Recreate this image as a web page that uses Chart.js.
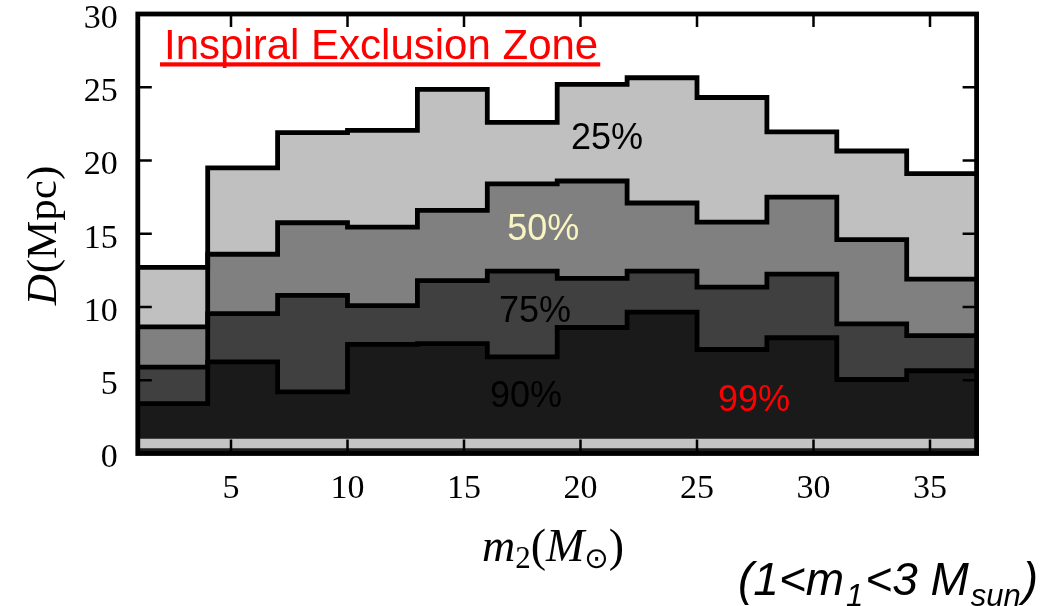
<!DOCTYPE html>
<html><head><meta charset="utf-8">
<script src="https://cdn.jsdelivr.net/npm/chart.js@4.4.1/dist/chart.umd.min.js"></script>
<style>html,body{margin:0;padding:0;background:#fff;}#wrap{width:1041px;height:606px;position:relative;}</style>
</head><body><div id="wrap"><canvas id="c"></canvas></div>
<script>
// bin edges of m2 (M_sun)
const binEdges = [1, 4, 7, 10, 13, 16, 19, 22, 25, 28, 31, 34, 37];
// exclusion distance (Mpc) per bin for each confidence level
const level25 = [12.7, 19.5, 21.9, 22.05, 24.85, 22.6, 25.2, 25.65, 24.3, 21.95, 20.65, 19.1];
const level50 = [8.65, 13.6, 15.75, 15.45, 16.6, 18.4, 18.6, 17.1, 15.8, 17.5, 14.6, 11.9];
const level75 = [5.9, 9.55, 10.8, 10.1, 11.8, 12.45, 11.95, 12.45, 11.35, 12.25, 8.85, 8.05];
const level90 = [3.4, 6.25, 4.2, 7.45, 7.5, 6.6, 8.6, 9.65, 7.1, 7.9, 5.05, 5.65];
// 99% band (thin strip near the bottom)
const level99Top = 1.0;
const level99Bottom = 0.35;
// tick labels
const xTickValues = [5, 10, 15, 20, 25, 30, 35];
const yTickValues = [0, 5, 10, 15, 20, 25, 30];
// band annotations (data coordinates)
const bandLabels = ['25%', '50%', '75%', '90%', '99%'];
const bandLabelX = [21.14, 18.40, 18.05, 17.66, 27.45];
const bandLabelY = [21.47, 15.26, 9.64, 3.88, 3.58];
const bandLabelColors = ['#000000', '#f8f5c2', '#000000', '#000000', '#ff0000'];

function stepPoints(vals) {
  const pts = vals.map((v, i) => ({x: binEdges[i], y: v}));
  pts.push({x: binEdges[binEdges.length - 1], y: vals[vals.length - 1]});
  return pts;
}
function lineDs(vals, color) {
  return {data: stepPoints(vals), stepped: true, fill: 'origin', backgroundColor: color,
    borderColor: '#000', borderWidth: 4.8, pointRadius: 0, borderJoinStyle: 'miter', borderCapStyle: 'butt'};
}
const datasets = [
  {data: [{x: binEdges[0], y: level99Top}, {x: binEdges[binEdges.length - 1], y: level99Top}],
   fill: {value: level99Bottom}, backgroundColor: '#c3c3c3', borderWidth: 0, pointRadius: 0},
  lineDs(level90, '#1a1a1a'),
  lineDs(level75, '#404040'),
  lineDs(level50, '#808080'),
  lineDs(level25, '#c0c0c0')
];

const decor = {
  id: 'decor',
  afterDatasetsDraw(chart) {
    const {ctx, chartArea: a, scales: {x, y}} = chart;
    ctx.save();
    ctx.strokeStyle = '#000';
    ctx.lineWidth = 2.5;
    ctx.beginPath();
    xTickValues.forEach(v => {
      const px = x.getPixelForValue(v);
      ctx.moveTo(px, a.top); ctx.lineTo(px, a.top + 13);
      ctx.moveTo(px, a.bottom); ctx.lineTo(px, a.bottom - 14);
    });
    yTickValues.slice(1, -1).forEach(v => {
      const py = y.getPixelForValue(v);
      ctx.moveTo(a.left, py); ctx.lineTo(a.left + 14, py);
      ctx.moveTo(a.right, py); ctx.lineTo(a.right - 14, py);
    });
    ctx.stroke();
    ctx.lineWidth = 4.8;
    ctx.strokeRect(a.left, a.top, a.right - a.left, a.bottom - a.top);

    // band labels
    ctx.font = '36px "Liberation Sans", Arial, sans-serif';
    ctx.textAlign = 'center';
    ctx.textBaseline = 'middle';
    bandLabels.forEach((t, i) => {
      ctx.fillStyle = bandLabelColors[i];
      ctx.fillText(t, x.getPixelForValue(bandLabelX[i]), y.getPixelForValue(bandLabelY[i]));
    });

    // title in box
    ctx.textAlign = 'left';
    ctx.textBaseline = 'alphabetic';
    ctx.fillStyle = '#ff0000';
    ctx.font = '42px "Liberation Sans", Arial, sans-serif';
    const title = 'Inspiral Exclusion Zone';
    const tx = 164, tyb = 59;
    ctx.fillText(title, tx, tyb);
    const tw = ctx.measureText(title).width;
    ctx.fillRect(tx - 4, 62.3, tw + 6, 4.2);
    ctx.restore();
  },
  afterDraw(chart) {
    const ctx = chart.ctx;
    ctx.save();
    ctx.fillStyle = '#000';
    ctx.textBaseline = 'alphabetic';
    ctx.textAlign = 'left';
    const serif = '"Liberation Serif", "Times New Roman", serif';
    // y axis title: D(Mpc)
    ctx.save();
    ctx.translate(56, 236);
    ctx.rotate(-Math.PI / 2);
    ctx.font = 'italic 43px ' + serif;
    const wD = ctx.measureText('D').width;
    ctx.font = '43px ' + serif;
    const wR = ctx.measureText('(Mpc)').width;
    let sx = -(wD + wR) / 2;
    ctx.font = 'italic 43px ' + serif;
    ctx.fillText('D', sx, 0);
    ctx.font = '43px ' + serif;
    ctx.fillText('(Mpc)', sx + wD + 1, 0);
    ctx.restore();

    // x axis title: m2(M⊙)
    const parts = [
      {t: 'm', f: 'italic 46px ' + serif, dy: 0},
      {t: '2', f: '31px ' + serif, dy: 7},
      {t: '(', f: '46px ' + serif, dy: 0},
      {t: 'M', f: 'italic 46px ' + serif, dy: 0},
      {t: '\u2299', f: '29px "DejaVu Sans", sans-serif', dy: 7},
      {t: ')', f: '46px ' + serif, dy: 0}
    ];
    let tot = 0;
    parts.forEach(p => { ctx.font = p.f; p.w = ctx.measureText(p.t).width; tot += p.w; });
    let cx = 553 - tot / 2;
    parts.forEach(p => { ctx.font = p.f; ctx.fillText(p.t, cx, 561 + p.dy); cx += p.w; });

    // mass range note
    const sans = '"Liberation Sans", Arial, sans-serif';
    const note = [
      {t: '(1<m', f: 'italic 46px ' + sans, dy: 0},
      {t: '1', f: 'italic 31px ' + sans, dy: 11},
      {t: '<3 M', f: 'italic 46px ' + sans, dy: 0},
      {t: 'sun', f: 'italic 31px ' + sans, dy: 11},
      {t: ')', f: 'italic 46px ' + sans, dy: 0}
    ];
    let nx = 738;
    note.forEach(p => { ctx.font = p.f; ctx.fillText(p.t, nx, 595 + p.dy); nx += ctx.measureText(p.t).width + 2; });
    ctx.restore();
  }
};

new Chart(document.getElementById('c'), {
  type: 'line',
  data: {datasets},
  plugins: [decor],
  options: {
    animation: false,
    responsive: true,
    maintainAspectRatio: false,
    layout: {padding: {top: 14, right: 64.4, left: 0, bottom: 0}},
    plugins: {legend: {display: false}, tooltip: {enabled: false}, filler: {drawTime: 'beforeDatasetsDraw'}},
    scales: {
      x: {
        type: 'linear', min: binEdges[0], max: binEdges[binEdges.length - 1],
        grid: {display: false, drawTicks: false}, border: {display: false},
        afterBuildTicks: s => { s.ticks = xTickValues.map(v => ({value: v})); },
        afterFit: s => { s.height = 152.5; s.paddingLeft = 0; s.paddingRight = 0; },
        ticks: {font: {family: '"Liberation Serif", serif', size: 34}, color: '#000', padding: 15,
          maxRotation: 0, autoSkip: false, callback: v => String(v)}
      },
      y: {
        type: 'linear', min: yTickValues[0], max: yTickValues[yTickValues.length - 1],
        grid: {display: false, drawTicks: false}, border: {display: false},
        afterBuildTicks: s => { s.ticks = yTickValues.map(v => ({value: v})); },
        afterFit: s => { s.width = 137.8; s.paddingTop = 0; s.paddingBottom = 0; },
        ticks: {font: {family: '"Liberation Serif", serif', size: 34}, color: '#000', padding: 20,
          labelOffset: 5, autoSkip: false, callback: v => String(v)}
      }
    }
  }
});
</script></body></html>
